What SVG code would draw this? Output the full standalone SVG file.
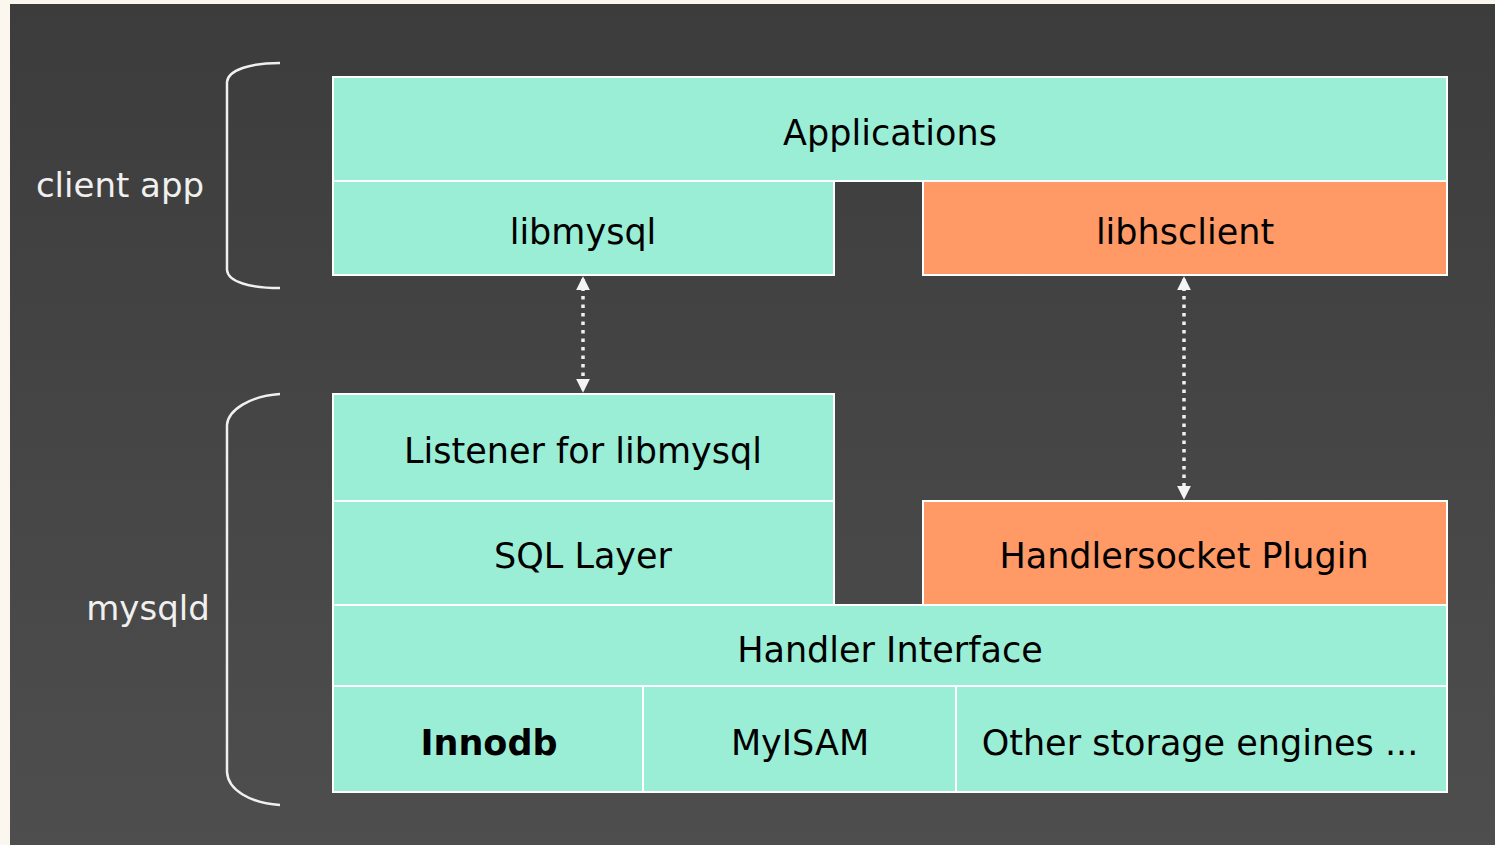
<svg xmlns="http://www.w3.org/2000/svg" width="1495" height="845" viewBox="0 0 1495 845">
<defs>
<linearGradient id="bg" x1="0" y1="0" x2="0" y2="1">
<stop offset="0" stop-color="#3c3c3c"/>
<stop offset="1" stop-color="#4e4e4e"/>
</linearGradient>
<marker id="ah" viewBox="0 0 10 10" refX="8" refY="5" markerWidth="4" markerHeight="4" orient="auto-start-reverse" markerUnits="strokeWidth">
<path d="M0,0 L10,5 L0,10 z" fill="#f4f4f4"/>
</marker>
<style>
.t{fill:#9aeed5;stroke:#ffffff;stroke-width:2}
.o{fill:#ff9966;stroke:#ffffff;stroke-width:2}
.lbl{font-family:"DejaVu Sans","Liberation Sans",sans-serif;font-size:35px;fill:#000;text-anchor:middle}
.side{font-family:"DejaVu Sans","Liberation Sans",sans-serif;font-size:34px;fill:#f0f0f0;text-anchor:middle}
.brace{fill:none;stroke:#f0f0f0;stroke-width:2.5}
.conn{stroke:#f0f0f0;stroke-width:3.5;stroke-dasharray:3.5 5;fill:none}
</style>
</defs>
<rect x="0" y="0" width="1495" height="845" fill="#fbf6ee"/>
<rect x="10" y="4" width="1485" height="841" fill="url(#bg)"/>

<g id="brace-client">
<path class="brace" d="M280,63 C250,63 228,70 227,82 L227,270 C228,282 250,288 280,288"/>
<text class="side" x="120" y="197">client app</text>
</g>
<g id="brace-mysqld">
<path class="brace" d="M280,394 C250,396 228,410 227,425 L227,772 C228,790 250,803 280,805"/>
<text class="side" x="148" y="620">mysqld</text>
</g>

<g id="applications"><rect class="t" x="333" y="77" width="1114" height="104"/><text class="lbl" x="890" y="145">Applications</text></g>
<g id="libmysql"><rect class="t" x="333" y="181" width="501" height="94"/><text class="lbl" x="583" y="244">libmysql</text></g>
<g id="libhsclient"><rect class="o" x="923" y="181" width="524" height="94"/><text class="lbl" x="1185" y="244">libhsclient</text></g>
<g id="listener"><rect class="t" x="333" y="394" width="501" height="107"/><text class="lbl" x="583" y="463">Listener for libmysql</text></g>
<g id="sql-layer"><rect class="t" x="333" y="501" width="501" height="104"/><text class="lbl" x="583" y="568">SQL Layer</text></g>
<g id="handlersocket"><rect class="o" x="923" y="501" width="524" height="104"/><text class="lbl" x="1184" y="568">Handlersocket Plugin</text></g>
<g id="handler-interface"><rect class="t" x="333" y="605" width="1114" height="81"/><text class="lbl" x="890" y="662">Handler Interface</text></g>
<g id="innodb"><rect class="t" x="333" y="686" width="310" height="106"/><text class="lbl" x="489" y="755" font-weight="bold" font-size="38">Innodb</text></g>
<g id="myisam"><rect class="t" x="643" y="686" width="313" height="106"/><text class="lbl" x="800" y="755">MyISAM</text></g>
<g id="other"><rect class="t" x="956" y="686" width="491" height="106"/><text class="lbl" x="1200" y="755">Other storage engines ...</text></g>

<g id="connectors">
<line class="conn" x1="583" y1="279" x2="583" y2="390" marker-start="url(#ah)" marker-end="url(#ah)"/>
<line class="conn" x1="1184" y1="279" x2="1184" y2="497" marker-start="url(#ah)" marker-end="url(#ah)"/>
</g>
</svg>
